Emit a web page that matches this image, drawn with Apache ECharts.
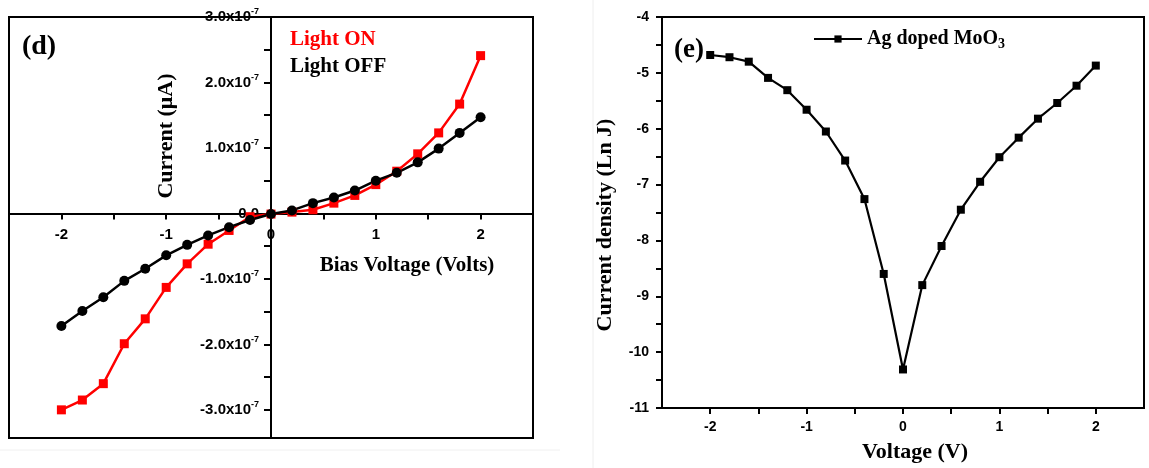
<!DOCTYPE html>
<html><head><meta charset="utf-8">
<script src="https://cdn.jsdelivr.net/npm/echarts@6/dist/echarts.min.js"></script>
<style>html,body{margin:0;padding:0;background:#fff}#c{width:1149px;height:468px}</style>
</head><body><div id="c"></div>
<script>
// ---- data ----
const voltage = [-2,-1.8,-1.6,-1.4,-1.2,-1,-0.8,-0.6,-0.4,-0.2,0,0.2,0.4,0.6,0.8,1,1.2,1.4,1.6,1.8,2];
const lightOn = [-3.00e-7,-2.85e-7,-2.60e-7,-1.99e-7,-1.61e-7,-1.13e-7,-0.77e-7,-0.47e-7,-0.26e-7,-0.05e-7,-0.01e-7,
                 0.02e-7,0.056e-7,0.157e-7,0.275e-7,0.44e-7,0.645e-7,0.91e-7,1.23e-7,1.67e-7,2.41e-7];
const lightOff = [-1.72e-7,-1.49e-7,-1.28e-7,-1.03e-7,-0.845e-7,-0.64e-7,-0.48e-7,-0.336e-7,-0.21e-7,-0.10e-7,-0.01e-7,
                  0.046e-7,0.157e-7,0.244e-7,0.35e-7,0.50e-7,0.62e-7,0.78e-7,0.99e-7,1.23e-7,1.47e-7];
const lnJ = [-4.68,-4.72,-4.80,-5.09,-5.31,-5.66,-6.05,-6.57,-7.26,-8.60,-10.31,
             -8.80,-8.10,-7.45,-6.95,-6.51,-6.16,-5.82,-5.54,-5.23,-4.87];
const leftXLabels = [-2,-1,0,1,2];
const leftXTicks = [-2,-1.5,-1,-0.5,0,0.5,1,1.5,2];
const leftYLabels = [-3e-7,-2e-7,-1e-7,0,1e-7,2e-7,3e-7];
const leftYTicks = [-3e-7,-2.5e-7,-2e-7,-1.5e-7,-1e-7,-0.5e-7,0,0.5e-7,1e-7,1.5e-7,2e-7,2.5e-7,3e-7];
const rightXLabels = [-2,-1,0,1,2];
const rightXTicks = [-2,-1.5,-1,-0.5,0,0.5,1,1.5,2];
const rightYLabels = [-11,-10,-9,-8,-7,-6,-5,-4];
const rightYTicks = [-11,-10.5,-10,-9.5,-9,-8.5,-8,-7.5,-7,-6.5,-6,-5.5,-5,-4.5,-4];

const SANS = 'Liberation Sans, Arial, sans-serif';
const SERIF = 'Liberation Serif, Times New Roman, serif';
const axLine = {show:true, onZero:false, lineStyle:{color:'#000', width:2}};
const lblStyle = {color:'#000', fontFamily:SANS, fontWeight:'bold', fontSize:15};

// left panel geometry (grid box) – axes cross at the data origin
const L = {left:9, top:17, width:524, height:421, xmin:-2.5, xmax:2.5, ymin:-3.43e-7, ymax:3e-7};
const xZeroOffset = -L.width * (0 - L.xmin) / (L.xmax - L.xmin);
const yZeroOffset = -L.height * (0 - L.ymin) / (L.ymax - L.ymin);

const chart = echarts.init(document.getElementById('c'), null, {renderer:'canvas'});
chart.setOption({
  animation:false,
  backgroundColor:'#fff',
  grid:[
    {left:L.left, top:L.top, width:L.width, height:L.height, show:true, borderColor:'#000', borderWidth:2,
     backgroundColor:'transparent', containLabel:false, outerBoundsMode:'none'},
    {left:662, top:17, width:482, height:391, show:true, borderColor:'#000', borderWidth:2,
     backgroundColor:'transparent', containLabel:false, outerBoundsMode:'none'}
  ],
  xAxis:[
    {type:'value', gridIndex:0, min:L.xmin, max:L.xmax, position:'bottom', offset:yZeroOffset,
     axisLine:axLine, splitLine:{show:false},
     axisTick:{show:true, customValues:leftXTicks, length:6, lineStyle:{color:'#000', width:2}},
     axisLabel:Object.assign({customValues:leftXLabels, margin:14}, lblStyle)},
    {type:'value', gridIndex:1, min:-2.5, max:2.5, axisLine:axLine, splitLine:{show:false},
     axisTick:{show:true, customValues:rightXTicks, length:6, lineStyle:{color:'#000', width:2}},
     axisLabel:Object.assign({customValues:rightXLabels, margin:12}, lblStyle, {fontSize:14})}
  ],
  yAxis:[
    {type:'value', gridIndex:0, min:L.ymin, max:L.ymax, position:'left', offset:xZeroOffset,
     axisLine:axLine, splitLine:{show:false},
     axisTick:{show:true, customValues:leftYTicks, length:7, lineStyle:{color:'#000', width:2}},
     axisLabel:Object.assign({customValues:leftYLabels, margin:12,
       formatter:function(v){
         const n = Math.round(v/1e-7);
         if (n === 0) return '{m|0.0}';
         return '{m|' + n.toFixed(1) + 'x10}{s|-7}';
       },
       rich:{m:{fontFamily:SANS, fontWeight:'bold', fontSize:15, color:'#000'},
             s:{fontFamily:SANS, fontWeight:'bold', fontSize:9, color:'#000', padding:[0,0,10,0]}}
     }, lblStyle)},
    {type:'value', gridIndex:1, min:-11, max:-4, interval:1, axisLine:axLine, splitLine:{show:false},
     axisTick:{show:true, customValues:rightYTicks, length:6, lineStyle:{color:'#000', width:2}},
     axisLabel:Object.assign({customValues:rightYLabels, margin:13}, lblStyle, {fontSize:14})}
  ],
  legend:[
    {left:280, top:24, orient:'vertical', icon:'none', itemWidth:0, itemHeight:14, itemGap:6,
     selectedMode:false,
     textStyle:{fontFamily:SERIF, fontWeight:'bold', fontSize:21},
     data:[{name:'Light ON', textStyle:{color:'#ff0000'}}, {name:'Light OFF', textStyle:{color:'#000'}}]},
    {left:808, top:24, itemWidth:48, itemHeight:9, selectedMode:false,
     data:['Ag doped MoO3'],
     formatter:function(){ return '{t|Ag doped MoO}{b|3}'; },
     textStyle:{fontFamily:SERIF, fontWeight:'bold', fontSize:20, color:'#000',
       rich:{t:{fontFamily:SERIF, fontWeight:'bold', fontSize:20, color:'#000'},
             b:{fontFamily:SERIF, fontWeight:'bold', fontSize:14, color:'#000', padding:[10,0,0,0]}}}}
  ],
  series:[
    {name:'Light ON', type:'line', xAxisIndex:0, yAxisIndex:0,
     data:voltage.map((v,i)=>[v, lightOn[i]]), symbol:'rect', symbolSize:9,
     lineStyle:{color:'#ff0000', width:2.5}, itemStyle:{color:'#ff0000'}},
    {name:'Light OFF', type:'line', xAxisIndex:0, yAxisIndex:0,
     data:voltage.map((v,i)=>[v, lightOff[i]]), symbol:'circle', symbolSize:10,
     lineStyle:{color:'#000', width:2.5}, itemStyle:{color:'#000'}},
    {name:'Ag doped MoO3', type:'line', xAxisIndex:1, yAxisIndex:1,
     data:voltage.map((v,i)=>[v, lnJ[i]]), symbol:'rect', symbolSize:8,
     lineStyle:{color:'#000', width:2.2}, itemStyle:{color:'#000'}}
  ],
  graphic:[
    {type:'line', shape:{x1:593, y1:0, x2:593, y2:468}, style:{stroke:'#eeeeee', lineWidth:1}, silent:true},
    {type:'line', shape:{x1:0, y1:450, x2:560, y2:450}, style:{stroke:'#f0f0f0', lineWidth:1}, silent:true},
    {type:'text', x:39, y:47, style:{text:'(d)', textAlign:'center', textVerticalAlign:'middle', font:'bold 28px ' + SERIF, fill:'#000'}},
    {type:'text', x:689, y:50, style:{text:'(e)', textAlign:'center', textVerticalAlign:'middle', font:'bold 27px ' + SERIF, fill:'#000'}},
    {type:'text', x:166, y:136, rotation:Math.PI/2, style:{text:'Current (\u03bcA)', textAlign:'center', textVerticalAlign:'middle', font:'bold 22px ' + SERIF, fill:'#000'}},
    {type:'text', x:407, y:266, style:{text:'Bias Voltage (Volts)', textAlign:'center', textVerticalAlign:'middle', font:'bold 21px ' + SERIF, fill:'#000'}},
    {type:'text', x:605, y:225, rotation:Math.PI/2, style:{text:'Current density (Ln J)', textAlign:'center', textVerticalAlign:'middle', font:'bold 22px ' + SERIF, fill:'#000'}},
    {type:'text', x:915, y:452, style:{text:'Voltage (V)', textAlign:'center', textVerticalAlign:'middle', font:'bold 22px ' + SERIF, fill:'#000'}}
  ]
});
</script>
</body></html>
